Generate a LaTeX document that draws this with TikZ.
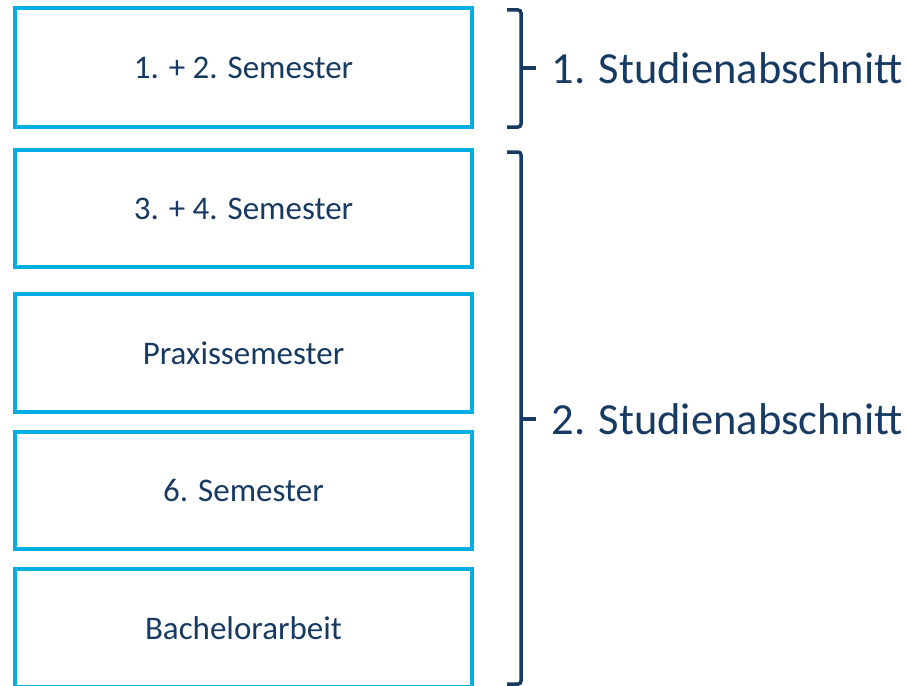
\documentclass[tikz,border=0pt]{standalone}
\usepackage{fontspec}
\setmainfont{Carlito}
\usetikzlibrary{positioning}
\definecolor{boxcyan}{HTML}{00AEE2}
\definecolor{navy}{HTML}{173A63}
\tikzset{x=1pt, y=-1pt,
  node distance=20pt, % gap between the semester boxes
  semesterbox/.style={ % one box per part of the course
    draw=boxcyan,
    line width=4pt,
    outer sep=0pt,
    minimum width=457pt,
    minimum height=118pt,
    text=navy,
    font=\fontsize{33}{38}\selectfont},
  brace/.style={
    draw=navy,
    line width=3.5pt,
    rounded corners=3pt},
  phase/.style={
    anchor=west,
    text=navy,
    inner sep=0pt,
    font=\fontsize{44.5}{52}\selectfont}}

\begin{document}
\begin{tikzpicture}
    \useasboundingbox (0,0) rectangle (909,685);
    \node[semesterbox, minimum height=119pt] (s12) at (243.5,67.5) {1. + 2. Semester};
    \node[semesterbox, minimum height=117pt, below=23pt of s12] (s34) {3. + 4. Semester};
    \node[semesterbox, below=27pt of s34] (praxis) {Praxissemester};
    \node[semesterbox, minimum height=117pt, below=of praxis] (s6) {6. Semester};
    \node[semesterbox, below=of s6] (bachelor) {Bachelorarbeit};
    % brackets
    \coordinate (b1top) at (507,10);
    \coordinate (b1bot) at (507,127);
    \coordinate (b1tip) at (521,68);
    \coordinate (b2top) at (507,152);
    \coordinate (b2bot) at (507,684);
    \coordinate (b2tip) at (521,419);
    \draw[brace] (b1top) -| (b1tip) |- (b1bot);
    \draw[brace] (b2top) -| (b2tip) |- (b2bot);
    \draw[brace] (b1tip) -- ++(15,0) node[phase, xshift=14pt] (phase1) {1. Studienabschnitt};
    \draw[brace] (b2tip) -- ++(15,0) node[phase, xshift=14pt] (phase2) {2. Studienabschnitt};
\end{tikzpicture}
\end{document}
